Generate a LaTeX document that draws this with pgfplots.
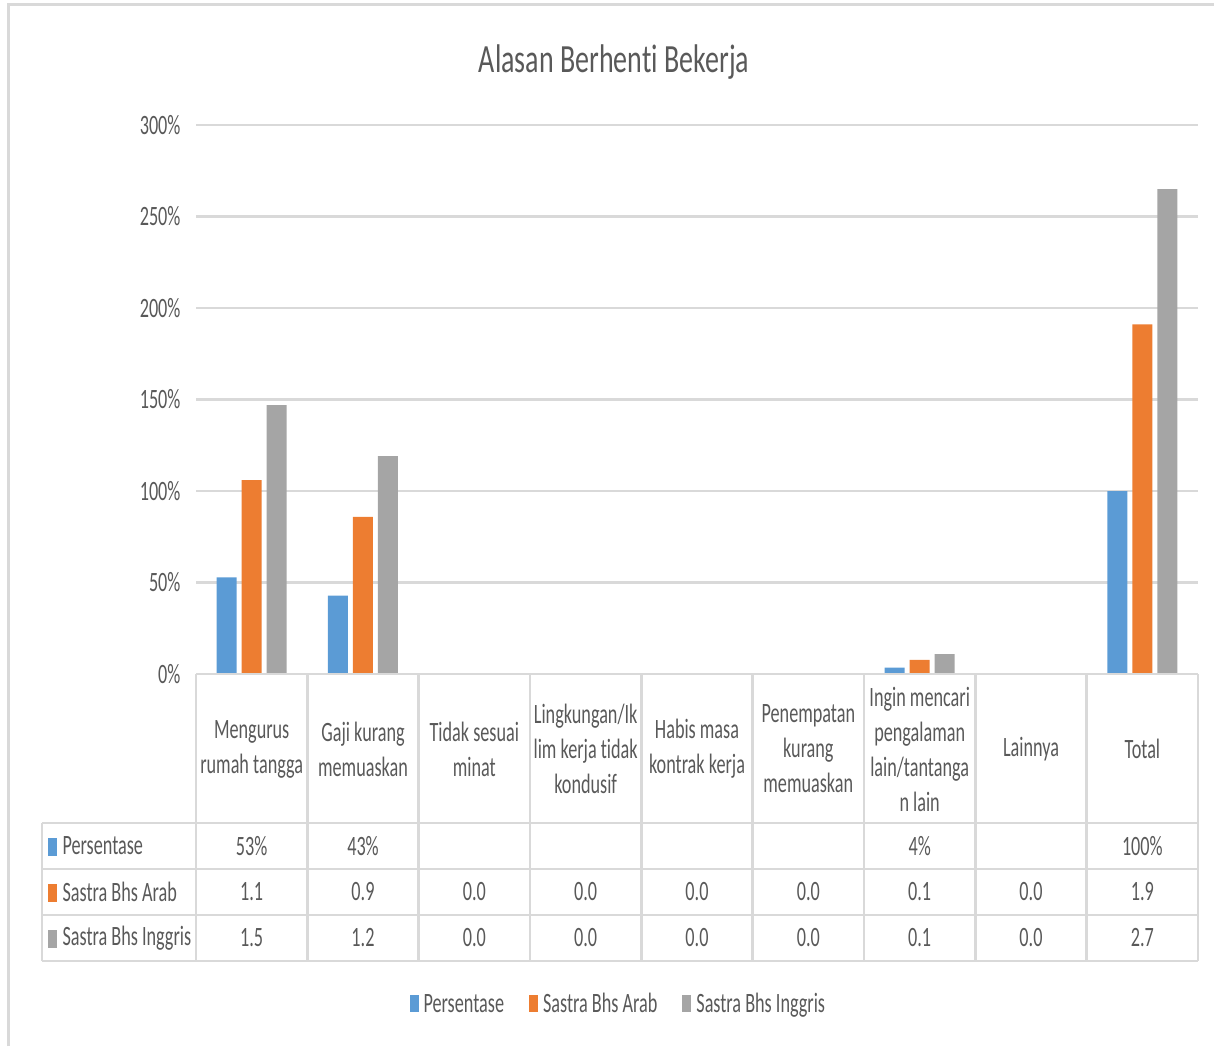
\documentclass[border=0pt]{standalone}
\usepackage{pgfplots}
\pgfplotsset{compat=1.18}
\usepackage{fontspec}
\setmainfont{Carlito}[FakeStretch=0.65, Ligatures=NoCommon]
\newfontfamily\titlefont{Carlito}[FakeStretch=0.7, Ligatures=NoCommon]
\definecolor{cblue}{HTML}{5B9BD5}
\definecolor{corange}{HTML}{ED7D31}
\definecolor{cgray}{HTML}{A5A5A5}
\definecolor{gridgray}{HTML}{D9D9D9}
\definecolor{textgray}{HTML}{595959}
\newcommand{\tf}{\fontsize{28}{35}\selectfont}
\begin{document}
\begin{tikzpicture}[x=1pt,y=1pt]
\useasboundingbox (0,0) rectangle (1214,-1046);
\draw[gridgray, line width=3pt] (8,-1046) -- (8,-5) -- (1214,-5);
\node[text=textgray, font=\titlefont\fontsize{40}{40}\selectfont] at (614,-62) {Alasan Berhenti Bekerja};
\begin{axis}[
  at={(196pt,-674pt)}, anchor=south west, scale only axis,
  width=1002pt, height=549pt,
  xmin=-0.5, xmax=8.5, ymin=0, ymax=300,
  ybar=5pt, bar width=20pt,
  axis line style={draw=none},
  ymajorgrids, grid style={line width=2.5pt, color=gridgray},
  ytick={0,50,100,150,200,250,300},
  yticklabels={0\%,50\%,100\%,150\%,200\%,250\%,300\%},
  xtick=\empty, major tick length=0pt,
  yticklabel style={font=\tf, text=textgray, xshift=-12pt},
  legend columns=3,
  legend style={at={(0.4215,-0.601)}, anchor=center, draw=none, fill=none,
    font=\tf, text=textgray,
    /tikz/every odd column/.append style={column sep=3pt},
    /tikz/every even column/.append style={column sep=23pt}},
  legend image code/.code={\fill[#1] (0pt,-8pt) rectangle (9pt,9pt);},
]
\addplot[fill=cblue, draw=none] coordinates {(0,52.8) (1,42.8) (6,3.5) (8,100)};
\addplot[fill=corange, draw=none] coordinates {(0,106) (1,85.8) (2,0) (3,0) (4,0) (5,0) (6,7.7) (7,0) (8,191)};
\addplot[fill=cgray, draw=none] coordinates {(0,147) (1,119) (2,0) (3,0) (4,0) (5,0) (6,10.9) (7,0) (8,265)};
\legend{Persentase, Sastra Bhs Arab, Sastra Bhs Inggris}
\end{axis}
% data table
\begin{scope}[gridgray, line width=2.5pt]
\draw (196,-674) -- (1198,-674);
\foreach \yy in {823,869,915,961} \draw (42,-\yy) -- (1198,-\yy);
\draw (42,-823) -- (42,-961);
\foreach \k in {0,...,9} \draw ({196+\k*111.333},-674) -- ({196+\k*111.333},-961);
\end{scope}
\begin{scope}[every node/.style={font=\tf, text=textgray, align=center}]
\foreach \k/\lab in {0/{Mengurus\\rumah tangga},1/{Gaji kurang\\memuaskan},2/{Tidak sesuai\\minat},3/{Lingkungan/Ik\\lim kerja tidak\\kondusif},4/{Habis masa\\kontrak kerja},5/{Penempatan\\kurang\\memuaskan},6/{Ingin mencari\\pengalaman\\lain/tantanga\\n lain},7/{Lainnya},8/{Total}}
  \node at ({196+(\k+0.5)*111.333},-749) {\lab};
\foreach \k/\v in {0/53\%,1/43\%,6/4\%,8/100\%}
  \node at ({196+(\k+0.5)*111.333},-846) {\v};
\foreach \k/\v in {0/1.1,1/0.9,2/0.0,3/0.0,4/0.0,5/0.0,6/0.1,7/0.0,8/1.9}
  \node at ({196+(\k+0.5)*111.333},-892) {\v};
\foreach \k/\v in {0/1.5,1/1.2,2/0.0,3/0.0,4/0.0,5/0.0,6/0.1,7/0.0,8/2.7}
  \node at ({196+(\k+0.5)*111.333},-938) {\v};
\fill[cblue] (48,-838) rectangle (57,-856);
\fill[corange] (48,-884) rectangle (57,-902);
\fill[cgray] (48,-930) rectangle (57,-948);
\node[anchor=west] at (59,-846) {Persentase};
\node[anchor=west] at (59,-892) {Sastra Bhs Arab};
\node[anchor=west] at (59,-938) {Sastra Bhs Inggris};
\end{scope}
\end{tikzpicture}
\end{document}
